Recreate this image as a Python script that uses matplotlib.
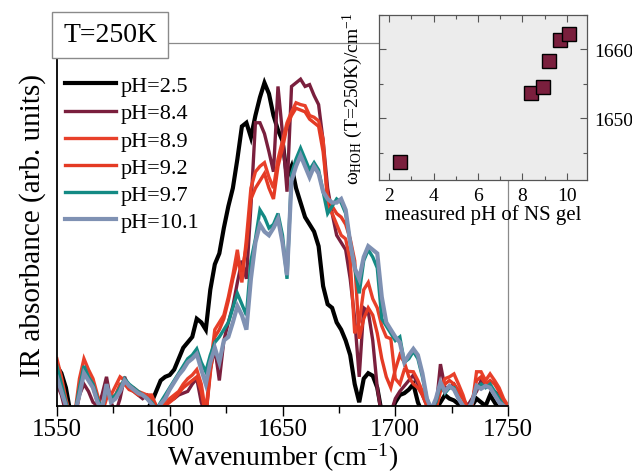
import numpy as np
import matplotlib
matplotlib.use("Agg")
import matplotlib.pyplot as plt
from matplotlib.ticker import MultipleLocator

plt.rcParams['font.family'] = ['Liberation Serif', 'DejaVu Serif']
plt.rcParams['mathtext.fontset'] = 'custom'
plt.rcParams['mathtext.rm'] = 'Liberation Serif'
plt.rcParams['mathtext.it'] = 'Liberation Serif:italic'

# wavenumber grid, 2 cm-1 steps
wavenumber = np.arange(1550, 1751, 2)

ph_2_5 = [0.11, 0.09, 0.05, -0.02, -0.05, -0.04, -0.03, -0.05, -0.04, -0.03,
          -0.04, -0.05, -0.03, -0.04, -0.05, -0.03, -0.04, -0.05, -0.03, -0.02,
          -0.01, 0.01, 0.04, 0.07, 0.08, 0.085, 0.10, 0.13, 0.16, 0.175,
          0.19, 0.24, 0.23, 0.21, 0.32, 0.39, 0.42, 0.49, 0.55, 0.60,
          0.68, 0.77, 0.78, 0.74, 0.80, 0.85, 0.89, 0.86, 0.80, 0.76,
          0.73, 0.63, 0.66, 0.60, 0.56, 0.52, 0.50, 0.48, 0.44, 0.33,
          0.28, 0.27, 0.23, 0.21, 0.18, 0.14, 0.06, 0.01, 0.075, 0.09,
          0.083, 0.05, -0.02, -0.03, -0.02, 0.01, 0.03, 0.035, 0.045, 0.06,
          0.01, -0.02, -0.03, -0.02, -0.01, 0.01, 0.03, 0.02, 0.015, 0.005,
          -0.01, -0.01, 0.0, 0.02, 0.01, 0.0, 0.03, 0.01, -0.01, -0.02,
          -0.02]

ph_8_4 = [0.06, 0.03, -0.02, -0.04, -0.03, 0.03, 0.06, 0.04, 0.01, 0.00,
          0.03, 0.08, 0.01, -0.02, 0.02, 0.08, 0.05, 0.04, 0.03, 0.02,
          0.03, 0.02, 0.00, -0.01, 0.00, 0.015, 0.02, 0.03, 0.035, 0.04,
          0.06, 0.075, 0.01, -0.03, 0.10, 0.16, 0.07, 0.18, 0.23, 0.275,
          0.34, 0.40, 0.35, 0.55, 0.78, 0.78, 0.75, 0.70, 0.645, 0.88,
          0.75, 0.59, 0.88, 0.89, 0.90, 0.88, 0.885, 0.855, 0.83, 0.73,
          0.60, 0.53, 0.47, 0.45, 0.43, 0.35, 0.24, 0.08, 0.27, 0.26,
          0.18, 0.05, -0.03, -0.04, -0.02, 0.02, 0.04, 0.055, 0.07, 0.085,
          0.06, 0.03, 0.00, -0.02, -0.01, 0.115, 0.05, 0.05, 0.06, 0.04,
          0.02, 0.0, 0.02, 0.04, 0.07, 0.06, 0.05, 0.04, 0.03, 0.01,
          0.0]

ph_8_9 = [0.13, 0.08, 0.02, -0.03, -0.02, 0.075, 0.13, 0.10, 0.075, 0.03,
          -0.02, 0.02, 0.03, 0.055, 0.08, 0.07, 0.055, 0.05, 0.04, 0.035,
          0.03, 0.03, 0.00, -0.01, 0.01, 0.02, 0.03, 0.04, 0.06, 0.075,
          0.085, 0.10, 0.06, -0.02, 0.11, 0.21, 0.23, 0.25, 0.30, 0.36,
          0.43, 0.34, 0.46, 0.60, 0.645, 0.66, 0.67, 0.63, 0.60, 0.68,
          0.73, 0.78, 0.81, 0.835, 0.83, 0.827, 0.80, 0.795, 0.785, 0.735,
          0.55, 0.53, 0.50, 0.47, 0.46, 0.40, 0.20, 0.23, 0.32, 0.34,
          0.295, 0.27, 0.22, 0.19, 0.185, 0.075, 0.06, 0.10, 0.095, 0.094,
          0.07, 0.04, 0.01, -0.02, -0.01, 0.05, 0.075, 0.08, 0.088, 0.06,
          0.03, -0.01, 0.0, 0.094, 0.094, 0.07, 0.088, 0.07, 0.05, 0.02,
          0.0]

ph_9_2 = [0.10, 0.05, 0.0, -0.03, -0.03, 0.03, 0.10, 0.08, 0.05, 0.01,
          -0.03, 0.04, 0.02, 0.03, 0.06, 0.06, 0.045, 0.04, 0.03, 0.03,
          0.025, 0.02, 0.0, -0.02, 0.0, 0.01, 0.02, 0.035, 0.05, 0.06,
          0.07, 0.08, 0.04, -0.03, 0.09, 0.19, 0.21, 0.24, 0.29, 0.35,
          0.40, 0.37, 0.44, 0.57, 0.60, 0.62, 0.64, 0.60, 0.57, 0.66,
          0.71, 0.77, 0.80, 0.82, 0.815, 0.81, 0.79, 0.78, 0.77, 0.70,
          0.58, 0.55, 0.53, 0.52, 0.50, 0.46, 0.40, 0.185, 0.24, 0.27,
          0.25, 0.20, 0.13, 0.08, 0.05, 0.10, 0.14, 0.12, 0.08, 0.06,
          0.05, 0.03, 0.0, -0.02, -0.01, 0.04, 0.06, 0.07, 0.06, 0.04,
          0.02, -0.01, 0.01, 0.07, 0.08, 0.06, 0.07, 0.06, 0.04, 0.01,
          -0.01]

ph_9_7 = [0.11, 0.06, 0.01, -0.03, -0.02, 0.05, 0.11, 0.08, 0.06, 0.02,
          -0.01, 0.05, 0.02, 0.03, 0.05, 0.075, 0.06, 0.05, 0.04, 0.03,
          0.02, 0.01, -0.01, 0.01, 0.03, 0.05, 0.07, 0.09, 0.11, 0.13,
          0.14, 0.157, 0.12, 0.094, 0.14, 0.175, 0.19, 0.21, 0.23, 0.27,
          0.31, 0.28, 0.25, 0.40, 0.46, 0.54, 0.52, 0.49, 0.50, 0.53,
          0.47, 0.35, 0.64, 0.68, 0.71, 0.68, 0.65, 0.67, 0.65, 0.59,
          0.53, 0.55, 0.57, 0.56, 0.53, 0.45, 0.38, 0.31, 0.40, 0.43,
          0.41, 0.38, 0.24, 0.22, 0.20, 0.18, 0.19, 0.12, 0.13, 0.15,
          0.13, 0.08, 0.02, -0.01, 0.01, 0.06, 0.035, 0.05, 0.05, 0.02,
          0.0, -0.01, 0.01, 0.05, 0.06, 0.05, 0.06, 0.04, 0.02, 0.0,
          -0.01]

ph_10_1 = [0.08, 0.04, 0.0, -0.03, -0.02, 0.03, 0.09, 0.07, 0.05, 0.01,
           -0.01, 0.06, 0.01, 0.02, 0.04, 0.07, 0.055, 0.045, 0.035, 0.03,
           0.02, 0.005, -0.01, 0.005, 0.02, 0.045, 0.065, 0.085, 0.10, 0.12,
           0.13, 0.143, 0.10, 0.06, 0.12, 0.16, 0.12, 0.18, 0.19, 0.23,
           0.275, 0.25, 0.21, 0.35, 0.45, 0.50, 0.48, 0.47, 0.49, 0.515,
           0.45, 0.36, 0.62, 0.66, 0.69, 0.66, 0.63, 0.66, 0.64, 0.59,
           0.57, 0.56, 0.56, 0.57, 0.54, 0.45, 0.38, 0.35, 0.41, 0.44,
           0.43, 0.42, 0.30, 0.23, 0.21, 0.19, 0.175, 0.12, 0.14, 0.157,
           0.14, 0.09, 0.02, -0.01, 0.02, 0.065, 0.04, 0.055, 0.045, 0.02,
           0.0, -0.01, 0.01, 0.055, 0.047, 0.055, 0.05, 0.03, 0.01, 0.0,
           -0.01]

labels = ["pH=2.5", "pH=8.4", "pH=8.9", "pH=9.2", "pH=9.7", "pH=10.1"]
colors = ["#000000", "#7a1f3d", "#e8402a", "#e43a24", "#138a84", "#7f91b3"]
widths = [3.0, 2.4, 2.4, 2.4, 2.4, 3.0]

# inset: peak position vs measured pH
measured_ph = [2.5, 8.4, 8.9, 9.2, 9.7, 10.1]
omega_hoh = [1643.6, 1653.6, 1654.5, 1658.3, 1661.3, 1662.3]
omega_err = [0.5, 0.5, 0.5, 0.5, 0.5, 0.5]

fig = plt.figure(figsize=(6.32, 4.77), dpi=100)
ax = fig.add_axes([0.090, 0.147, 0.714, 0.761])

spectra = [ph_2_5, ph_8_4, ph_8_9, ph_9_2, ph_9_7, ph_10_1]
for vals, lab, c, lw in zip(spectra, labels, colors, widths):
    assert len(vals) == len(wavenumber)
    ax.plot(wavenumber, vals, color=c, lw=lw, label=lab, solid_joinstyle='miter')

ax.set_xlim(1550, 1750)
ax.set_ylim(0, 1)
ax.xaxis.set_major_locator(MultipleLocator(50))
ax.xaxis.set_minor_locator(MultipleLocator(25))
ax.set_yticks([])
ax.tick_params(axis='x', which='major', direction='out', length=7, width=1, labelsize=18, pad=2)
ax.tick_params(axis='x', which='minor', direction='out', length=5, width=1)
for s in ['left', 'bottom']:
    ax.spines[s].set_color('black')
    ax.spines[s].set_linewidth(1.3)
for s in ['top', 'right']:
    ax.spines[s].set_color('#8a8a8a')
    ax.spines[s].set_linewidth(0.9)

ax.set_xlabel("Wavenumber (cm$^{\\mathrm{-1}}$)", fontsize=20, labelpad=0)
ax.set_ylabel("IR absorbance (arb. units)", fontsize=21, labelpad=8)

leg = ax.legend(loc='upper left', bbox_to_anchor=(0.018, 0.91), frameon=False,
                fontsize=16, handlelength=2.3, handletextpad=0.2,
                labelspacing=0.3, borderpad=0, borderaxespad=0)

fig.text(110 / 632, 1 - 36 / 477, "T=250K", fontsize=20, ha='center', va='center',
         bbox=dict(boxstyle='square,pad=0.38', fc='white', ec='#8a8a8a', lw=1))

# inset
ins = fig.add_axes([379 / 632, 1 - 181 / 477, 208 / 632, 165 / 477])
ins.set_facecolor('#ececec')
ins.errorbar(measured_ph, omega_hoh, yerr=omega_err, fmt='s', ms=10,
             mfc='#7a1f3d', mec='black', mew=1, ecolor='#333333', elinewidth=0.8,
             capsize=0)
ins.set_xlim(1.55, 10.9)
ins.set_ylim(1641, 1665)
ins.xaxis.set_major_locator(MultipleLocator(2))
ins.xaxis.set_minor_locator(MultipleLocator(1))
ins.yaxis.set_major_locator(MultipleLocator(10))
ins.yaxis.set_minor_locator(MultipleLocator(5))
ins.tick_params(which='both', direction='in', top=True, right=True, left=True,
                labelleft=False, labelright=True, color='#555555', width=0.8)
ins.tick_params(which='major', length=5, labelsize=14, pad=5)
ins.tick_params(which='minor', length=3)
for s in ins.spines.values():
    s.set_color('#555555')
    s.set_linewidth(0.9)
ins.set_xlabel("measured pH of NS gel", fontsize=15, labelpad=0)
ins.set_ylabel("ω$_{\\mathrm{HOH}}$ (T=250K)/cm$^{\\mathrm{-1}}$", fontsize=14, labelpad=10)

fig.savefig("out.png", dpi=100)
